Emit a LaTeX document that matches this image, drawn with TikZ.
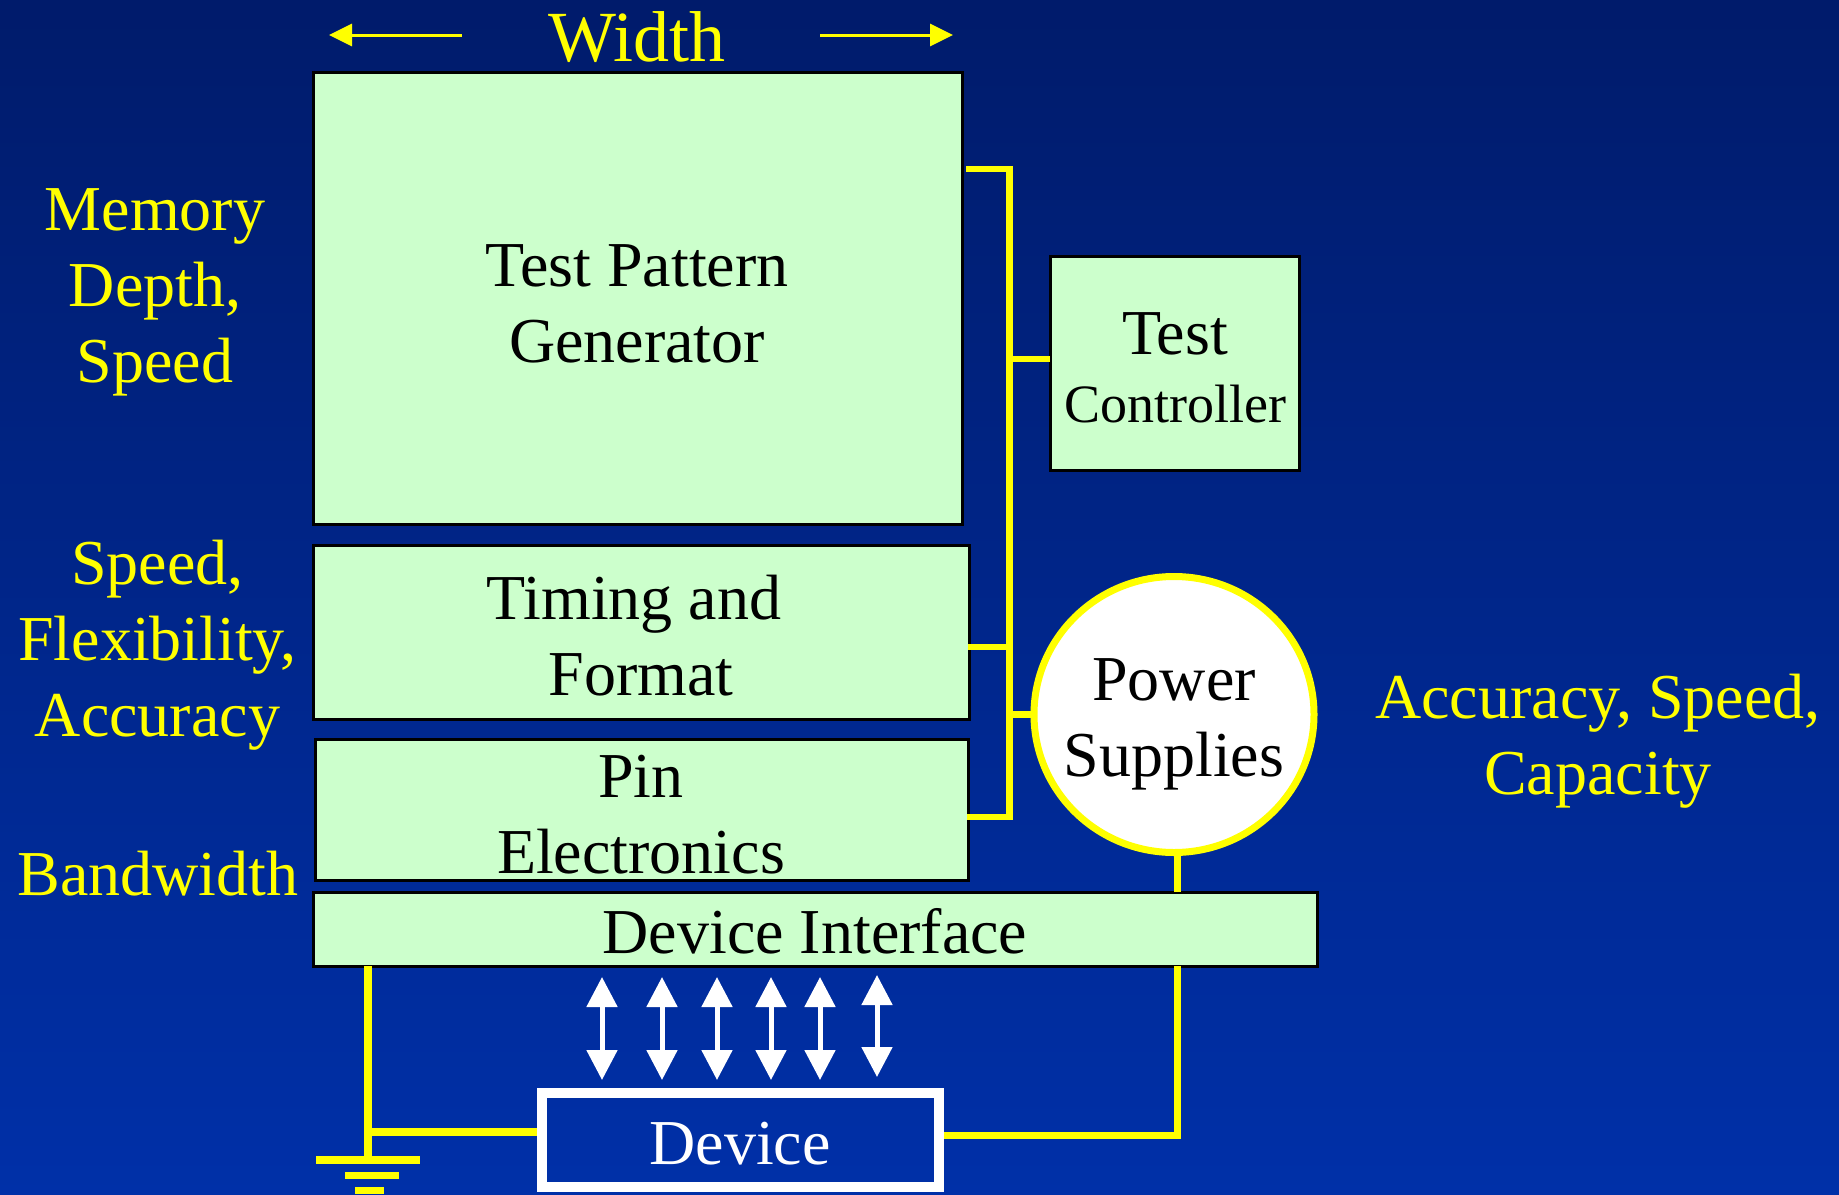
\documentclass[tikz,border=0pt]{standalone}
\usepackage{fontspec}
\setmainfont{Liberation Serif}
\usetikzlibrary{arrows.meta,shapes.geometric}
\definecolor{bgtop}{RGB}{0,27,107}
\definecolor{bgbot}{RGB}{0,48,168}
\definecolor{mint}{RGB}{204,255,204}
\definecolor{signal}{RGB}{255,255,0}

\begin{document}
\begin{tikzpicture}[x=1pt,y=-1pt,
  panel/.style={draw=black, line width=3pt, fill=mint, inner sep=0pt, outer sep=0pt, anchor=north west},
  wire/.style={draw=signal, line width=6.5pt},
  note/.style={text=signal, font=\fontsize{64}{76}\selectfont, align=center, anchor=base, inner sep=0pt},
  boxtext/.style={text=black, font=\fontsize{64}{76}\selectfont, align=center, anchor=base, inner sep=0pt},
  widtharrow/.style={draw=signal, line width=3pt, -{Triangle[length=23pt,width=22pt]}},
  pinarrow/.style={draw=white, line width=5pt, {Triangle[length=30pt,width=30pt]}-{Triangle[length=30pt,width=30pt]}}]

% background
\useasboundingbox (0,0) rectangle (1839,1194);
\shade[top color=bgtop, bottom color=bgbot] (0,0) rectangle (1839,1194);

% tester blocks
\node[panel, minimum width=649pt, minimum height=452pt] (tpg) at (313,72) {};
\node[panel, minimum width=656pt, minimum height=174pt] (tim) at (313,545) {};
\node[panel, minimum width=653pt, minimum height=141pt] (pin) at (315,739) {};
\node[panel, minimum width=1004pt, minimum height=74pt] (di) at (313,892) {};
\node[panel, minimum width=249pt, minimum height=214pt] (tc) at (1050,256) {};
\node[draw=signal, line width=7pt, fill=white, ellipse, minimum width=280pt, minimum height=276pt, inner sep=0pt] (ps) at (1174,714.5) {};
\node[draw=white, line width=9.5pt, minimum width=397pt, minimum height=94pt, inner sep=0pt, outer sep=0pt, anchor=north west] (dev) at (542,1093) {};

% block captions (anchored at the baseline of the last line)
\node[boxtext] (tpgtext) at (637,362) {Test Pattern\\Generator};
\node[boxtext] (timtext) at (641,695) {Timing and\hspace*{14pt}\\Format};
\node[boxtext] (pintext) at (641,873) {Pin\\Electronics};
\node[boxtext] (ditext) at (815,953) {Device Interface};
\node[boxtext] (tctext) at (1175,422) {Test\\[-8pt]{\fontsize{54}{64}\selectfont Controller}};
\node[boxtext] (pstext) at (1174,776) {Power\\Supplies};
\node[boxtext, text=white] (devtext) at (740,1164) {Device};

% side annotations
\node[note] (memnote) at (155,382) {Memory\\Depth,\\Speed};
\node[note] (timnote) at (157.5,736) {Speed,\\Flexibility,\\Accuracy};
\node[note] (pinnote) at (158,895) {Bandwidth};
\node[note] (psnote) at (1598,794) {Accuracy, Speed,\\Capacity};
\node[note, font=\fontsize{72}{84}\selectfont] (widthnote) at (637,61) {Width};

% width arrows
\coordinate (wl1) at (462,35);
\coordinate (wl2) at (329,35);
\coordinate (wr1) at (820,35);
\coordinate (wr2) at (953,35);
\draw[widtharrow] (wl1) -- (wl2);
\draw[widtharrow] (wr1) -- (wr2);

% control bus
\coordinate (busTop) at (1009.5,169);
\coordinate (busBot) at (1009.5,817);
\draw[wire, line join=miter] ([xshift=4pt]tpg.east |- busTop) -- (busTop) -- (busBot) -- ([xshift=-1pt]pin.east |- busBot);
\draw[wire] (busTop |- 0,359) -- (tc.west |- 0,359);
\draw[wire] ([xshift=-1pt]tim.east |- 0,647) -- (busTop |- 0,647);
\draw[wire] (busTop |- ps.west) -- (ps.west);

% power feed to the device
\coordinate (psx) at (1177,0);
\draw[wire, line width=7pt] (psx |- ps.south) -- (psx |- di.north);
\draw[wire, line width=7pt, line join=miter] (psx |- di.south) -- (psx |- 0,1135) -- ([xshift=4.75pt]dev.east |- 0,1135);

% ground return
\coordinate (gnd) at (368,1160);
\draw[wire, line width=7.5pt] (gnd |- di.south) -- (gnd);
\draw[wire, line width=7.5pt] (gnd |- 0,1132) -- ([xshift=-4.75pt]dev.west |- 0,1132);
\fill[signal] (316,1156) rectangle (420,1164);
\fill[signal] (345,1172) rectangle (399,1179);
\fill[signal] (355,1187) rectangle (384,1194);

% pin channels between interface and device
\foreach \px/\ta/\tb [count=\i] in {602/977/1080, 662/977/1080, 717/977/1080, 771/977/1080, 820/977/1080, 877/975/1077} {
  \coordinate (ch\i a) at (\px,\ta);
  \coordinate (ch\i b) at (\px,\tb);
  \draw[pinarrow] (ch\i a) -- (ch\i b);
}
\end{tikzpicture}
\end{document}
